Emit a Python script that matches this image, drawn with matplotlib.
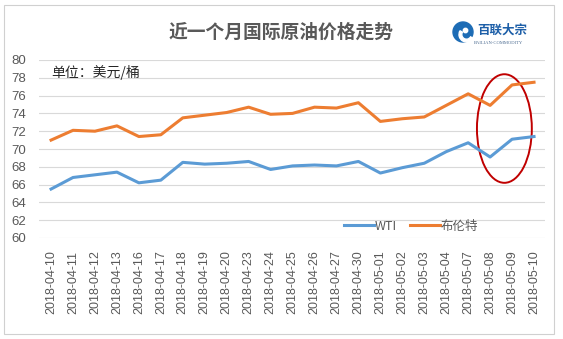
import numpy as np
import matplotlib.pyplot as plt
from matplotlib.patches import Ellipse, Rectangle, Circle, Wedge

plt.rcParams['font.family'] = ['Noto Sans CJK SC', 'DejaVu Sans']

# 数据：近一个月 WTI 与布伦特原油价格（美元/桶）
dates = ['2018-04-10', '2018-04-11', '2018-04-12', '2018-04-13', '2018-04-16',
         '2018-04-17', '2018-04-18', '2018-04-19', '2018-04-20', '2018-04-23',
         '2018-04-24', '2018-04-25', '2018-04-26', '2018-04-27', '2018-04-30',
         '2018-05-01', '2018-05-02', '2018-05-03', '2018-05-04', '2018-05-07',
         '2018-05-08', '2018-05-09', '2018-05-10']
wti = [65.5, 66.8, 67.1, 67.4, 66.2, 66.5, 68.5, 68.3, 68.4, 68.6, 67.7, 68.1,
       68.2, 68.1, 68.6, 67.3, 67.9, 68.4, 69.7, 70.7, 69.1, 71.1, 71.4]
brent = [71.0, 72.1, 72.0, 72.6, 71.4, 71.6, 73.5, 73.8, 74.1, 74.7, 73.9, 74.0,
         74.7, 74.6, 75.2, 73.1, 73.4, 73.6, 74.9, 76.2, 74.9, 77.2, 77.5]
yticks = list(range(60, 81, 2))

W, H = 563, 339
fig = plt.figure(figsize=(W / 100, H / 100), dpi=100)
fig.patch.set_facecolor('white')

# 外框
fig.patches.append(Rectangle((4 / W, 5 / H), 550 / W, 329 / H, transform=fig.transFigure,
                             fill=False, edgecolor='#d0d0d0', linewidth=0.8))

ax = fig.add_axes([39 / W, 1 - 238 / H, 506 / W, 178 / H])
x = np.arange(len(dates))
ax.plot(x, wti, color='#5b9bd5', linewidth=2.2, label='WTI', solid_joinstyle='round')
ax.plot(x, brent, color='#ed7d31', linewidth=2.2, label='布伦特', solid_joinstyle='round')

ax.set_ylim(60, 80)
ax.set_xlim(-0.55, len(dates) - 0.5)
ax.set_yticks(yticks)
ax.set_xticks(x)
ax.set_xticklabels(dates, rotation=90, family=['Liberation Sans'], fontsize=9, color='#595959')
ax.set_yticklabels([str(v) for v in yticks], family=['Liberation Sans'], fontsize=9.5, color='#595959')
ax.tick_params(axis='both', length=0)
ax.tick_params(axis='y', pad=9)
ax.tick_params(axis='x', pad=9)
ax.grid(axis='y', color='#d9d9d9', linewidth=0.8)
ax.set_axisbelow(True)
for s in ax.spines.values():
    s.set_visible(False)

# 红圈标注最近几天
ax.add_patch(Ellipse((20.65, 72.3), 2.5, 12.2, fill=False, edgecolor='#c00000', linewidth=1.4))

ax.text(0.0, 78.6, '单位：美元/桶', fontsize=10, color='#262626', va='center')

ax.legend(loc='center', bbox_to_anchor=(372 / 506, (238 - 226) / 178), ncol=2, frameon=False,
          fontsize=9, handlelength=2.4, columnspacing=1.0, handletextpad=0.05,
          labelcolor='#595959')

fig.text(281 / W, 1 - 32 / H, '近一个月国际原油价格走势', ha='center', va='center',
         fontsize=13.5, fontweight='bold', color='#595959')

# 百联大宗 标志
lax = fig.add_axes([452 / W, 1 - 43 / H, 22 / W, 22 / H])
lax.set_xlim(-1.1, 1.1)
lax.set_ylim(-1.1, 1.1)
lax.set_aspect('equal')
lax.axis('off')
lax.add_patch(Circle((0, 0), 1.0, color='#1d6cb5'))
lax.add_patch(Wedge((0.35, -0.25), 0.75, 150, 330, width=0.28, color='white'))
lax.add_patch(Circle((0.25, 0.15), 0.22, color='white'))
fig.text(477 / W, 1 - 30 / H, '百联大宗', ha='left', va='center', fontsize=9,
         fontweight='bold', color='#1d5fa8')
fig.text(499 / W, 1 - 43 / H, 'BAILIAN-COMMODITY', ha='center', va='center', fontsize=3.3,
         color='#4a6a90', family=['Liberation Serif'])

fig.savefig('out.png', dpi=100)
